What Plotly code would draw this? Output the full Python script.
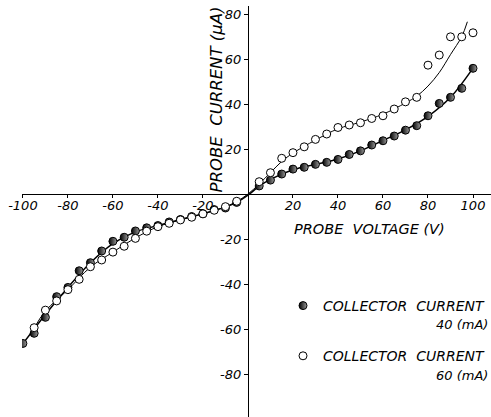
import plotly.graph_objects as go

# ---- data ----
v40 = [-100, -95, -90, -85, -80, -75, -70, -65, -60, -55, -50, -45, -40, -35, -30, -25, -20, -15, -10, -5,
       5, 10, 15, 20, 25, 30, 35, 40, 45, 50, 55, 60, 65, 70, 75, 80, 85, 90, 95, 100]
i40 = [-66.4, -61.9, -54.8, -45.6, -41.5, -34.1, -30.5, -25.3, -21.0, -19.2, -16.4, -15.0, -14.0, -12.4, -11.3, -10.0, -8.7, -6.9, -6.2, -3.7,
       3.6, 6.2, 8.9, 11.1, 11.9, 13.2, 14.1, 15.4, 17.6, 19.2, 21.8, 23.7, 25.8, 28.4, 30.4, 34.8, 40.3, 43.0, 47.0, 55.9]

v60 = [-95, -90, -85, -80, -75, -70, -65, -60, -55, -50, -45, -40, -35, -30, -25, -20, -15, -10, -5,
       5, 10, 15, 20, 25, 30, 35, 40, 45, 50, 55, 60, 65, 70, 75, 80, 85, 90, 95, 100]
i60 = [-59.4, -51.6, -47.5, -42.5, -37.9, -32.3, -29.3, -25.8, -23.2, -19.7, -16.5, -14.5, -13.0, -11.5, -10.3, -8.8, -7.2, -5.6, -3.2,
       5.5, 9.5, 15.9, 18.4, 21.0, 24.3, 26.7, 29.6, 30.7, 31.7, 33.6, 34.8, 37.8, 41.0, 43.0, 57.3, 61.8, 69.9, 69.9, 71.7]

# fitted curves
fit40_v = [-100, -90, -80, -70, -60, -50, -40, -30, -20, -10, -5, 0, 5, 10, 20, 30, 40, 50, 60, 70, 80, 90, 100]
fit40_i = [-66.5, -53.5, -41.5, -30.5, -22.0, -16.8, -14.0, -11.3, -8.7, -5.8, -3.7, -0.5, 3.5, 6.5, 10.8, 13.2, 15.6, 19.2, 23.8, 28.5, 34.5, 43.0, 56.0]
fit60_v = [-95, -90, -80, -70, -60, -50, -40, -30, -20, -10, -5, 0, 5, 10, 15, 20, 30, 40, 50, 60, 70, 75, 80, 85, 90, 95, 97.5]
fit60_i = [-59.5, -52.0, -42.5, -32.5, -25.8, -19.5, -14.5, -11.5, -8.8, -5.6, -3.3, 0.0, 4.5, 9.5, 14.5, 18.2, 24.0, 29.0, 32.0, 35.5, 40.5, 43.5, 48.0, 54.0, 62.0, 70.0, 76.6]

xtick_vals = [-100, -80, -60, -40, -20, 20, 40, 60, 80, 100]
xtick_text = ["-100", "-80", "-60", "-40", "-20", "20", "40", "60", "80", "100"]
ytick_vals = [80, 60, 40, 20, -20, -40, -60, -80]
ytick_text = ["80", "60", "40", "20", "-20", "-40", "-60", "-80"]

x_title = "PROBE  VOLTAGE (V)"
y_title = "PROBE  CURRENT (μA)"
series_names = ["COLLECTOR  CURRENT", "COLLECTOR  CURRENT"]
series_units = ["40 (mA)", "60 (mA)"]

# ---- figure ----
W, H = 491, 417
ml, mr, mt, mb = 22, 0, 6, 0
xr = [-100.4, 108.0]
yr = [-99.1, 83.6]
PW, PH = W - ml - mr, H - mt - mb


def px_x(p):
    return (p - ml) / PW


def px_y(p):
    return 1 - (p - mt) / PH


FONT = "DejaVu Sans"
fig = go.Figure()

fig.add_trace(go.Scatter(x=fit60_v, y=fit60_i, mode="lines", line=dict(color="black", width=1, shape="spline"),
                         hoverinfo="skip", showlegend=False))
fig.add_trace(go.Scatter(x=fit40_v, y=fit40_i, mode="lines", line=dict(color="black", width=1.5, shape="spline"),
                         hoverinfo="skip", showlegend=False))
fig.add_trace(go.Scatter(x=v40, y=i40, mode="markers", name=series_names[0], legendgroup="a",
                         marker=dict(symbol="circle", size=8, color="black",
                                     gradient=dict(type="horizontal", color="#9a9a9a"),
                                     line=dict(color="black", width=1))))
fig.add_trace(go.Scatter(x=v60, y=i60, mode="markers", name=series_names[1], legendgroup="b",
                         marker=dict(symbol="circle", size=8, color="white", line=dict(color="black", width=1))))

tf = dict(family=FONT, size=13, color="black", style="italic")
fig.update_layout(
    width=W, height=H, margin=dict(l=ml, r=mr, t=mt, b=mb),
    plot_bgcolor="white", paper_bgcolor="white",
    xaxis=dict(range=xr, anchor="free", position=(0 - yr[0]) / (yr[1] - yr[0]),
               showline=True, linecolor="black", linewidth=1, showgrid=False, zeroline=False,
               tickvals=xtick_vals, ticktext=xtick_text, ticks="outside", ticklen=3, tickcolor="black",
               ticklabelstandoff=-4, tickfont=tf),
    yaxis=dict(range=yr, anchor="free", position=(0 - xr[0]) / (xr[1] - xr[0]),
               showline=True, linecolor="black", linewidth=1, showgrid=False, zeroline=False,
               tickvals=ytick_vals, ticktext=ytick_text, ticks="outside", ticklen=4, tickcolor="black",
               tickfont=tf),
    showlegend=True,
    legend=dict(x=px_x(283), y=px_y(290), xanchor="left", yanchor="top",
                bgcolor="rgba(0,0,0,0)", borderwidth=0, tracegroupgap=29, itemsizing="trace",
                font=dict(family=FONT, size=14, color="black", style="italic")),
)

af = dict(family=FONT, size=13, color="black", style="italic")
anns = [
    dict(x=53.8, y=-15.6, text=x_title, showarrow=False, font=dict(family=FONT, size=14.5, color="black", style="italic")),
    dict(x=-13.8, y=42, text=y_title, textangle=-90, showarrow=False, font=dict(family=FONT, size=16.5, color="black", style="italic")),
    dict(x=107.5, y=-58.2, text=series_units[0], xanchor="right", showarrow=False, font=af),
    dict(x=107.5, y=-80.5, text=series_units[1], xanchor="right", showarrow=False, font=af),
]
for a in anns:
    a.setdefault("xref", "x")
    a.setdefault("yref", "y")
fig.update_layout(annotations=anns)

fig.write_html("out.html")
